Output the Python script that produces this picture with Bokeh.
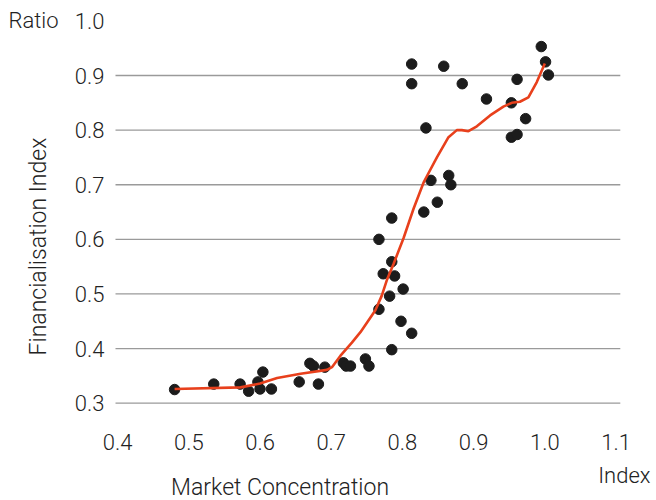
import math
from bokeh.plotting import figure
from bokeh.models import FixedTicker, Label, Range1d
from bokeh.embed import file_html
from bokeh.resources import INLINE

# Scatter data: market concentration (x) vs financialisation index (y)
market_conc = [0.480, 0.535, 0.572, 0.584, 0.597, 0.604, 0.600, 0.616, 0.655,
               0.670, 0.675, 0.682, 0.691, 0.717, 0.721, 0.727, 0.748, 0.753,
               0.785, 0.798, 0.813, 0.785, 0.767, 0.785, 0.773, 0.789, 0.801,
               0.782, 0.767, 0.830, 0.849, 0.813, 0.813, 0.858, 0.884, 0.833,
               0.918, 0.953, 0.961, 0.973, 0.953, 0.961, 0.995, 1.001, 1.005,
               0.865, 0.868, 0.840]
fin_index = [0.325, 0.335, 0.335, 0.322, 0.339, 0.357, 0.326, 0.326, 0.339,
             0.373, 0.368, 0.335, 0.366, 0.374, 0.368, 0.368, 0.381, 0.368,
             0.398, 0.450, 0.428, 0.639, 0.600, 0.559, 0.537, 0.533, 0.509,
             0.496, 0.472, 0.650, 0.668, 0.921, 0.885, 0.917, 0.885, 0.804,
             0.857, 0.850, 0.893, 0.821, 0.787, 0.792, 0.953, 0.925, 0.901,
             0.717, 0.700, 0.708]

# Smoothed fit curve
fit_x = [0.480, 0.5725, 0.600, 0.624, 0.657, 0.694, 0.701, 0.713, 0.729, 0.741,
         0.752, 0.762, 0.771, 0.778, 0.7875, 0.8015, 0.8156, 0.830, 0.8484,
         0.8647, 0.8764, 0.8834, 0.8927, 0.9045, 0.9231, 0.9418, 0.9536,
         0.965, 0.9769, 0.9887, 1.000]
fit_y = [0.326, 0.329, 0.336, 0.346, 0.354, 0.361, 0.366, 0.387, 0.411, 0.430,
         0.451, 0.470, 0.497, 0.525, 0.555, 0.602, 0.656, 0.705, 0.750,
         0.787, 0.800, 0.800, 0.798, 0.807, 0.827, 0.843, 0.850,
         0.852, 0.860, 0.888, 0.922]

x_ticks = [0.4, 0.5, 0.6, 0.7, 0.8, 0.9, 1.0, 1.1]
x_tick_labels = ["0.4", "0.5", "0.6", "0.7", "0.8", "0.9", "1.0", "1.1"]
y_ticks = [0.3, 0.4, 0.5, 0.6, 0.7, 0.8, 0.9, 1.0]
y_tick_labels = ["0.3", "0.4", "0.5", "0.6", "0.7", "0.8", "0.9", "1.0"]
grid_ticks = [0.3, 0.4, 0.5, 0.6, 0.7, 0.8, 0.9]

# data area (where the grid lines run) and the full canvas extent in data units
X0, X1 = 0.397, 1.106
Y_AXIS = 0.3
CANVAS_X = (0.23548, 1.15683)
CANVAS_Y = (0.12184, 1.03735)

FONT = "Roboto Light"
TXT = "#222222"
FS = "22px"
FS_TITLE = "23px"

p = figure(width=656, height=500, output_backend="svg", toolbar_location=None,
           x_range=Range1d(*CANVAS_X), y_range=Range1d(*CANVAS_Y),
           min_border_left=0, min_border_right=0, min_border_top=0,
           min_border_bottom=0)
p.outline_line_color = None
p.background_fill_color = "white"
p.border_fill_color = "white"
p.xgrid.visible = False
p.ygrid.visible = False

for ax in (p.xaxis[0], p.yaxis[0]):
    ax.axis_line_color = None
    ax.major_tick_line_color = None
    ax.minor_tick_line_color = None
    ax.major_tick_out = 0
    ax.major_tick_in = 0
    ax.major_label_text_font = FONT
    ax.major_label_text_font_size = FS
    ax.major_label_text_color = TXT

p.xaxis.fixed_location = Y_AXIS
p.xaxis.ticker = FixedTicker(ticks=x_ticks)
p.xaxis.major_label_overrides = dict(zip(x_ticks, x_tick_labels))
p.xaxis.major_label_standoff = 31
p.yaxis.fixed_location = X0
p.yaxis.ticker = FixedTicker(ticks=y_ticks)
p.yaxis.major_label_overrides = dict(zip(y_ticks, y_tick_labels))
p.yaxis.major_label_standoff = 11

# horizontal grid lines at the grid tick values
p.segment(x0=[X0] * len(grid_ticks), x1=[X1] * len(grid_ticks),
          y0=grid_ticks, y1=grid_ticks, line_color="#9a9a9a", line_width=1.3)

p.scatter(market_conc, fin_index, size=10.5, color="#1c1c1c")
p.line(fit_x, fit_y, line_color="#e8401c", line_width=2.6)

def add_label(text, x, y, size=FS, align="left", angle=0.0):
    p.add_layout(Label(x=x, y=y, text=text, text_font=FONT, text_font_size=size,
                       text_color=TXT, text_align=align, text_baseline="middle",
                       angle=angle))

add_label("Ratio", 0.2467, 1.0)
add_label("Financialisation Index", 0.2888, 0.5869, size=FS_TITLE, align="center",
          angle=math.pi / 2)
add_label("Market Concentration", 0.4751, 0.1456, size=FS_TITLE)
add_label("Index", 1.0750, 0.1676)

open("out.html", "w").write(file_html(p, INLINE))
